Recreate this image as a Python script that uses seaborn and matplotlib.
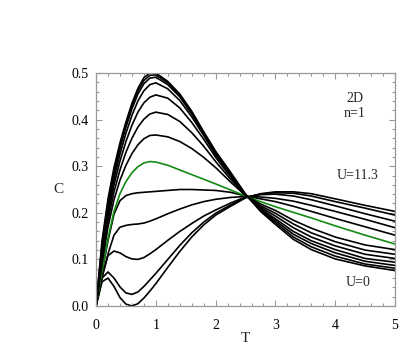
import numpy as np
import pandas as pd
import matplotlib
matplotlib.use('Agg')
import seaborn as sns
import matplotlib.pyplot as plt
from matplotlib.ticker import MultipleLocator

# temperature grid shared by all curves
T = [0, 0.1, 0.2, 0.3, 0.4, 0.5, 0.6, 0.7, 0.8, 0.9, 1.0, 1.2, 1.4, 1.6, 1.8,
     2.0, 2.25, 2.5, 2.75, 3.0, 3.3, 3.6, 4.0, 4.5, 5.0]

# specific heat curves, from U=0 (bottom at low T) up to U=11.3
c0 = [0, 0.052, 0.060, 0.042, 0.018, 0.004, 0.000, 0.005, 0.017, 0.032, 0.048, 0.083, 0.117,
      0.148, 0.174, 0.195, 0.214, 0.232, 0.241, 0.245, 0.245, 0.241, 0.230, 0.216, 0.203]
c1 = [0, 0.060, 0.073, 0.060, 0.041, 0.028, 0.025, 0.030, 0.042, 0.056, 0.070, 0.100, 0.130,
      0.157, 0.180, 0.199, 0.217, 0.233, 0.240, 0.243, 0.242, 0.236, 0.224, 0.210, 0.195]
c2 = [0, 0.064, 0.108, 0.118, 0.114, 0.106, 0.101, 0.100, 0.104, 0.112, 0.121, 0.141, 0.160,
      0.177, 0.193, 0.206, 0.221, 0.234, 0.239, 0.240, 0.236, 0.228, 0.215, 0.198, 0.182]
c3 = [0, 0.060, 0.112, 0.152, 0.169, 0.173, 0.175, 0.176, 0.178, 0.182, 0.187, 0.198, 0.208,
      0.217, 0.224, 0.229, 0.233, 0.235, 0.234, 0.231, 0.225, 0.216, 0.203, 0.186, 0.168]
c4 = [0, 0.072, 0.140, 0.197, 0.226, 0.237, 0.241, 0.243, 0.244, 0.245, 0.246, 0.248, 0.250,
      0.250, 0.249, 0.248, 0.244, 0.236, 0.230, 0.224, 0.214, 0.203, 0.188, 0.170, 0.152]
c5 = [0, 0.075, 0.145, 0.203, 0.241, 0.267, 0.286, 0.299, 0.307, 0.310, 0.309, 0.302, 0.292,
      0.282, 0.272, 0.262, 0.249, 0.236, 0.224, 0.213, 0.201, 0.189, 0.172, 0.152, 0.133]
c6 = [0, 0.090, 0.170, 0.228, 0.270, 0.302, 0.327, 0.346, 0.359, 0.366, 0.367, 0.363, 0.353,
      0.338, 0.319, 0.297, 0.266, 0.237, 0.219, 0.205, 0.184, 0.167, 0.148, 0.131, 0.121]
c7 = [0, 0.100, 0.183, 0.245, 0.292, 0.330, 0.360, 0.384, 0.401, 0.412, 0.416, 0.411, 0.396,
      0.372, 0.343, 0.310, 0.272, 0.237, 0.215, 0.199, 0.176, 0.157, 0.138, 0.120, 0.111]
c8 = [0, 0.110, 0.195, 0.260, 0.311, 0.353, 0.388, 0.416, 0.436, 0.448, 0.453, 0.446, 0.425,
      0.394, 0.358, 0.319, 0.277, 0.238, 0.212, 0.193, 0.168, 0.148, 0.129, 0.111, 0.102]
c9 = [0, 0.118, 0.205, 0.272, 0.326, 0.371, 0.409, 0.440, 0.462, 0.475, 0.479, 0.466, 0.441,
      0.406, 0.366, 0.324, 0.281, 0.238, 0.209, 0.187, 0.160, 0.140, 0.121, 0.102, 0.094]
c10 = [0, 0.126, 0.214, 0.283, 0.338, 0.384, 0.423, 0.455, 0.477, 0.489, 0.491, 0.475, 0.449,
       0.412, 0.370, 0.327, 0.283, 0.239, 0.207, 0.183, 0.154, 0.134, 0.114, 0.096, 0.087]
c11 = [0, 0.132, 0.222, 0.290, 0.344, 0.390, 0.430, 0.462, 0.484, 0.495, 0.496, 0.479, 0.452,
       0.415, 0.372, 0.330, 0.285, 0.239, 0.205, 0.179, 0.148, 0.127, 0.107, 0.090, 0.081]
c12 = [0, 0.140, 0.230, 0.297, 0.350, 0.395, 0.435, 0.467, 0.490, 0.500, 0.500, 0.482, 0.455,
       0.418, 0.374, 0.332, 0.287, 0.240, 0.203, 0.175, 0.143, 0.121, 0.101, 0.086, 0.076]

curves = [c0, c1, c2, c3, c4, c5, c6, c7, c8, c9, c10, c11, c12]
green_curve = 5

frames = []
for i, c in enumerate(curves):
    frames.append(pd.DataFrame({'T': T, 'C': c, 'curve': 'c%d' % i}))
df = pd.concat(frames, ignore_index=True)

palette = {'c%d' % i: ('#138a13' if i == green_curve else 'black') for i in range(len(curves))}

sns.set_theme(style='ticks')
plt.rcParams['font.family'] = ['Liberation Serif', 'DejaVu Serif']

fig = plt.figure(figsize=(4.07, 3.5), dpi=100)
ax = fig.add_axes([0.236, 0.1257, 0.7346, 0.6657])

sns.lineplot(data=df, x='T', y='C', hue='curve', palette=palette, estimator=None,
             sort=False, linewidth=1.2, legend=False, ax=ax)

ax.set_xlim(0, 5)
ax.set_ylim(0, 0.5)
ax.xaxis.set_major_locator(MultipleLocator(1))
ax.xaxis.set_minor_locator(MultipleLocator(0.2))
ax.yaxis.set_major_locator(MultipleLocator(0.1))
ax.yaxis.set_minor_locator(MultipleLocator(0.02))
ax.set_xticklabels([str(int(v)) for v in ax.get_xticks()])
ax.set_yticks([0, 0.1, 0.2, 0.3, 0.4, 0.5])
ax.set_yticklabels(['0.0', '0.1', '0.2', '0.3', '0.4', '0.5'])

for s in ax.spines.values():
    s.set_color('#999999')
    s.set_linewidth(0.9)
ax.tick_params(which='both', direction='in', top=True, right=True, color='#999999',
               width=0.8, labelsize=10, labelcolor='black')
ax.tick_params(axis='x', which='both', pad=9)
ax.tick_params(axis='y', which='both', pad=5)
ax.tick_params(which='major', length=4.5)
ax.tick_params(which='minor', length=2.5)

ax.set_xlabel('T', fontsize=11, labelpad=0)
ax.set_ylabel('C', fontsize=11, rotation=0, labelpad=10, va='center')

ax.text(4.33, 0.446, '2D', ha='center', va='center', fontsize=10)
ax.text(4.33, 0.414, 'n=1', ha='center', va='center', fontsize=10)
ax.text(4.38, 0.281, 'U=11.3', ha='center', va='center', fontsize=10)
ax.text(4.38, 0.0515, 'U=0', ha='center', va='center', fontsize=10)

fig.savefig('out.png', dpi=100)
